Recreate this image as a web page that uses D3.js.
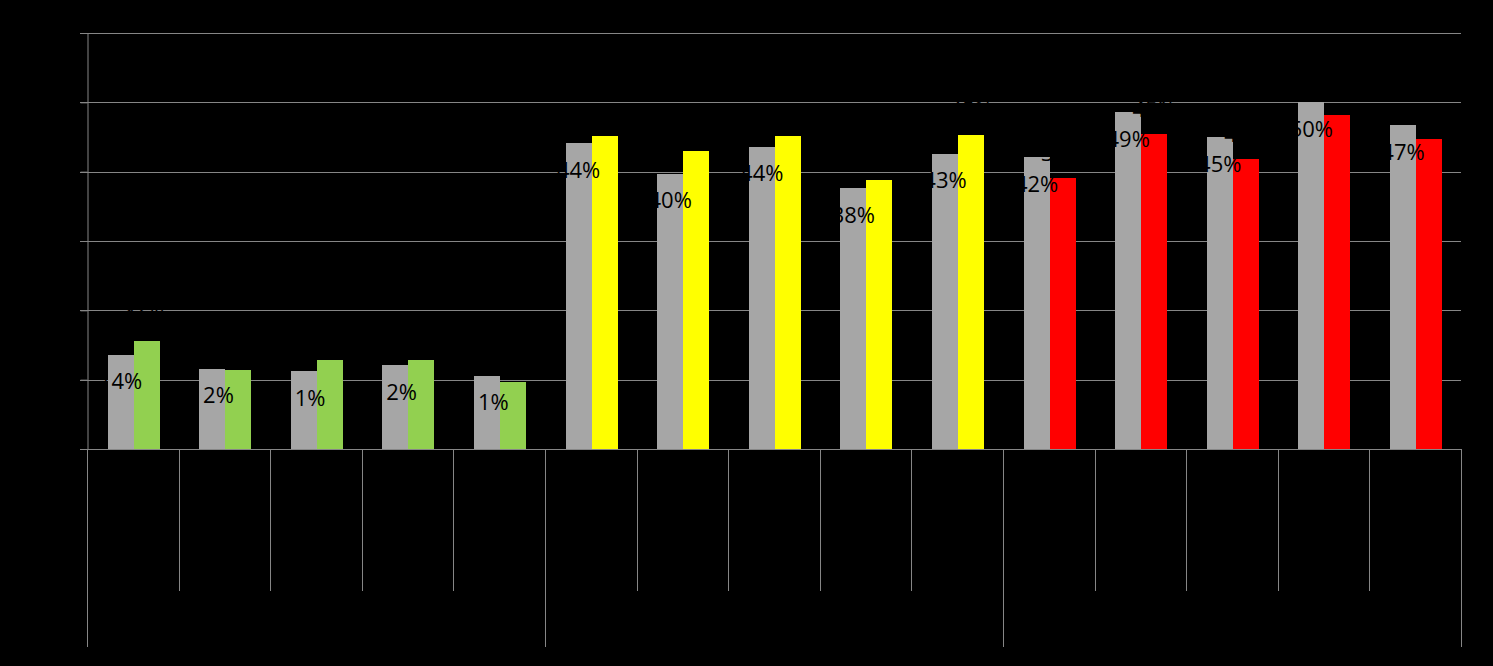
<!DOCTYPE html>
<html>
<head>
<meta charset="utf-8">
<script src="https://cdn.jsdelivr.net/npm/d3@7"></script>
<style>
  html, body { margin: 0; padding: 0; background: #000; }
  svg { display: block; }
</style>
</head>
<body>
<svg id="chart" width="1493" height="666"></svg>
<script>
// ---- data ----
const categories = ["c1","c2","c3","c4","c5","c6","c7","c8","c9","c10","c11","c12","c13","c14","c15"];
const groups = [
  { name: "g1", members: ["c1","c2","c3","c4","c5"], color: "#92D050" },
  { name: "g2", members: ["c6","c7","c8","c9","c10"], color: "#FFFF00" },
  { name: "g3", members: ["c11","c12","c13","c14","c15"], color: "#FF0000" }
];
const seriesGray  = [0.136, 0.116, 0.112, 0.121, 0.106, 0.441, 0.397, 0.436, 0.376, 0.426, 0.421, 0.486, 0.450, 0.500, 0.467];
const seriesColor = [0.156, 0.114, 0.128, 0.128, 0.097, 0.451, 0.430, 0.451, 0.388, 0.453, 0.391, 0.454, 0.418, 0.482, 0.447];
const yTicks = [0, 0.1, 0.2, 0.3, 0.4, 0.5, 0.6];

// ---- layout ----
const svg = d3.select("#chart");
svg.append("rect").attr("width", 1493).attr("height", 666).attr("fill", "#000");

const plotLeft = 87, plotRight = 1461, plotTop = 33, plotBase = 449;
const gridColor = "#868686";

const x = d3.scaleBand().domain(categories).range([plotLeft, plotRight]).paddingInner(0).paddingOuter(0);
const x1 = d3.scaleBand().domain(["gray", "color"]).range([0.8, x.bandwidth() + 0.8]).paddingInner(0).paddingOuter(0.76);
const y = d3.scaleLinear().domain([0, 0.6]).range([plotBase, plotTop]);

const colorOf = c => groups.find(g => g.members.includes(c)).color;

// gridlines
svg.append("g").selectAll("line").data(yTicks).join("line")
  .attr("x1", plotLeft - 7).attr("x2", plotRight)
  .attr("y1", d => Math.round(y(d)) + 0.5).attr("y2", d => Math.round(y(d)) + 0.5)
  .attr("stroke", gridColor).attr("stroke-width", 1);

// y axis (tick labels are black, as in the original)
const yAxis = svg.append("g").attr("transform", `translate(${plotLeft + 0.5},0)`)
  .call(d3.axisLeft(y).tickValues(yTicks).tickFormat(d3.format(".0%")).tickSize(7).tickPadding(6));
yAxis.select(".domain").attr("stroke", gridColor);
yAxis.selectAll(".tick line").attr("stroke", gridColor);
yAxis.selectAll(".tick text").attr("fill", "#000").style("font-family", "'Open Sans', sans-serif").style("font-size", "18px");

// bars (snapped to whole pixels so adjacent bars meet cleanly)
const fmt = d3.format(".0%");
const bars = svg.append("g").attr("shape-rendering", "crispEdges");
categories.forEach((c, i) => {
  const x0 = x(c);
  const gx = Math.round(x0 + x1("gray"));
  const cx = Math.round(x0 + x1("color"));
  const ex = Math.round(x0 + x1("color") + x1.bandwidth());
  bars.append("rect")
    .attr("x", gx).attr("width", cx - gx)
    .attr("y", y(seriesGray[i])).attr("height", plotBase - y(seriesGray[i]))
    .attr("fill", "#A6A6A6");
  bars.append("rect")
    .attr("x", cx).attr("width", ex - cx)
    .attr("y", y(seriesColor[i])).attr("height", plotBase - y(seriesColor[i]))
    .attr("fill", colorOf(c));
});

// x axis line + category separators (multi-level)
const xa = svg.append("g");
xa.append("line").attr("x1", plotLeft - 7).attr("x2", plotRight).attr("y1", plotBase + 0.5).attr("y2", plotBase + 0.5)
  .attr("stroke", gridColor);
const boundaries = d3.range(categories.length + 1).map(k => plotLeft + k * x.step());
const groupStarts = new Set([0, 5, 10, 15]);
xa.selectAll("line.sep").data(boundaries).join("line").attr("class", "sep")
  .attr("x1", d => Math.round(d) + 0.5).attr("x2", d => Math.round(d) + 0.5)
  .attr("y1", plotBase).attr("y2", (d, k) => groupStarts.has(k) ? 647 : 591)
  .attr("stroke", gridColor).attr("stroke-width", 1);

// data labels (black text, as in the original)
const labels = svg.append("g")
  .style("font-family", "'Open Sans', sans-serif").style("font-size", "22px")
  .attr("fill", "#000").attr("text-anchor", "middle");
categories.forEach((c, i) => {
  const x0 = x(c);
  labels.append("text")
    .attr("x", x0 + x1("gray") + x1.bandwidth() / 2)
    .attr("y", y(seriesGray[i]) + 27).attr("dy", "0.35em")
    .text(fmt(seriesGray[i]));
  labels.append("text")
    .attr("x", x0 + x1("color") + x1.bandwidth() / 2)
    .attr("y", y(seriesColor[i]) - 25).attr("dy", "0.35em")
    .text(fmt(seriesColor[i]));
});
</script>
</body>
</html>
